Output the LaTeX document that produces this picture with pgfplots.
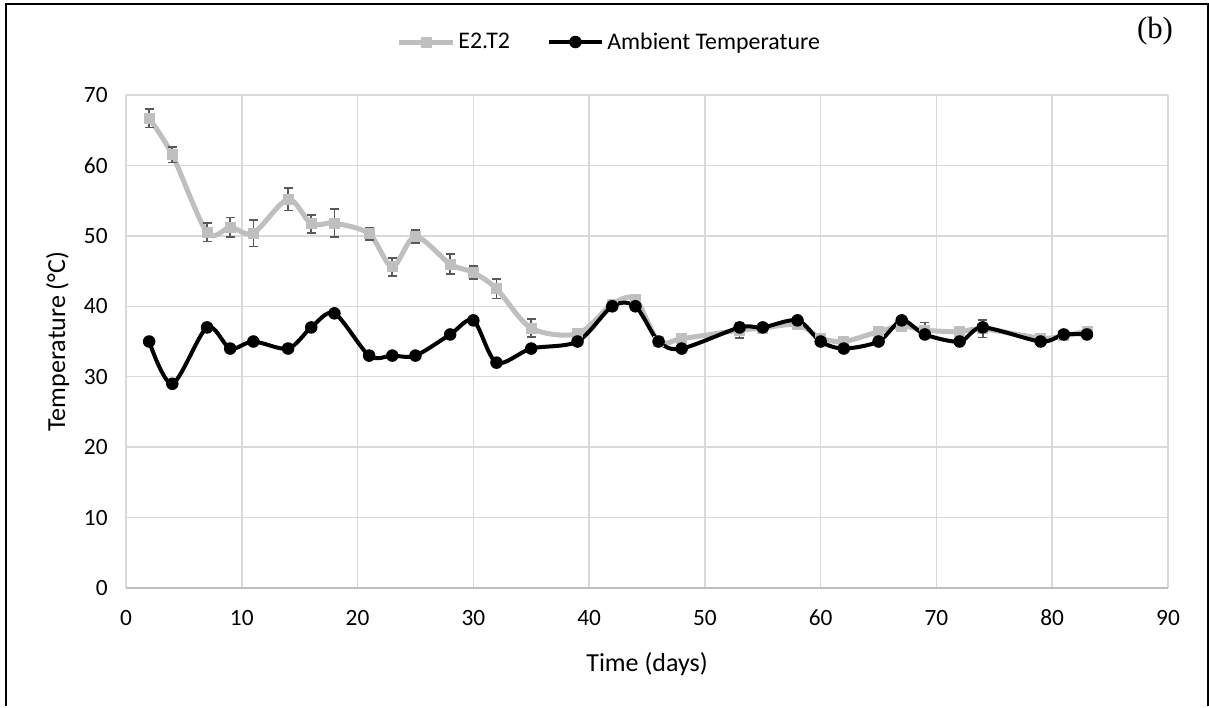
\documentclass[border=0pt]{standalone}
\usepackage{pgfplots}
\pgfplotsset{compat=1.18}
\usepackage{fontspec}
\setmainfont{Carlito}
\newfontfamily\seriffont{Liberation Serif}
\definecolor{lgray}{RGB}{191,191,191}
\definecolor{ebgray}{RGB}{89,89,89}
\definecolor{gridgray}{RGB}{217,217,217}
\begin{document}
\begin{tikzpicture}
\path (0,0) rectangle (725.4pt,423.6pt);
\draw[line width=1.2pt] (3.4pt,0pt) -- (3.4pt,421.2pt) -- (724.6pt,421.2pt) -- (724.6pt,0pt);
\node[font=\seriffont\fontsize{18.5}{20}\selectfont] at (693pt,405pt) {(b)};
\begin{axis}[
  at={(75.6pt,70.8pt)}, anchor=south west,
  scale only axis, width=625.2pt, height=295.8pt,
  xmin=0, xmax=90, ymin=0, ymax=70,
  xtick={0,10,...,90}, ytick={0,10,...,70},
  grid=major, major grid style={draw=gridgray, line width=0.9pt},
  axis x line*=bottom, axis y line*=left,
  x axis line style={draw=lgray, line width=0.9pt, -},
  y axis line style={draw=none},
  tick style={draw=none},
  /pgf/number format/assume math mode=true,
  tick label style={font=\fontsize{14}{16}\selectfont},
  xticklabel style={anchor=center, yshift=-18pt},
  yticklabel style={anchor=east, xshift=-7.5pt},
  label style={font=\fontsize{15.6}{18}\selectfont},
  xlabel={Time (days)},
  ylabel={Temperature (°C)},
  xlabel style={at={(axis description cs:0.5,-0.154)}, anchor=center},
  ylabel style={at={(axis description cs:-0.0656,0.5)}, anchor=center},
  legend columns=2,
  legend style={at={(0.4645,1.1075)}, anchor=center, draw=none, fill=none,
    font=\fontsize{14.3}{16}\selectfont, /tikz/every even column/.append style={column sep=20pt}},
  legend image code/.code={\draw[mark repeat=2,mark phase=2] plot coordinates {(0pt,0pt) (16pt,0pt) (32pt,0pt)};},
]
\addplot[color=lgray, line width=3pt, smooth, tension=0.5,
  mark=square*, mark size=3pt, mark options={fill=lgray, draw=lgray, line width=0.5pt},
  error bars/.cd, y dir=both, y explicit,
  error bar style={draw=ebgray, line width=1pt},
  error mark options={draw=ebgray, rotate=90, mark size=2.7pt, line width=1pt}]
  table[x=x, y=y, y error=e] {
x y e
2 66.7 1.3
4 61.5 1.1
7 50.5 1.3
9 51.2 1.4
11 50.4 1.9
14 55.2 1.6
16 51.7 1.3
18 51.8 2.0
21 50.3 0.9
23 45.6 1.3
25 49.9 0.95
28 46.0 1.4
30 44.8 0.9
32 42.5 1.4
35 36.9 1.3
39 36.1 0.7
42 40.3 0.5
44 41.0 0.4
46 35.0 0.5
48 35.4 0.5
53 36.6 1.1
55 36.9 0.4
58 37.4 0.6
60 35.5 0.5
62 35.0 0.5
65 36.4 0.5
67 37.2 0.8
69 36.6 1.1
72 36.4 0.5
74 36.8 1.25
79 35.5 0.4
81 35.8 0.4
83 36.5 0.6
};
\addlegendentry{E2.T2}
\addplot[color=black, line width=2.4pt, smooth, tension=0.5,
  mark=*, mark size=3.5pt, mark options={fill=black, line width=0.5pt}]
  coordinates {
(2,35) (4,29) (7,37) (9,34) (11,35) (14,34) (16,37) (18,39) (21,33) (23,33)
(25,33) (28,36) (30,38) (32,32) (35,34) (39,35) (42,40) (44,40) (46,35) (48,34)
(53,37) (55,37) (58,38) (60,35) (62,34) (65,35) (67,38) (69,36) (72,35) (74,37)
(79,35) (81,36) (83,36)
};
\addlegendentry{Ambient Temperature}
\end{axis}
\end{tikzpicture}
\end{document}
